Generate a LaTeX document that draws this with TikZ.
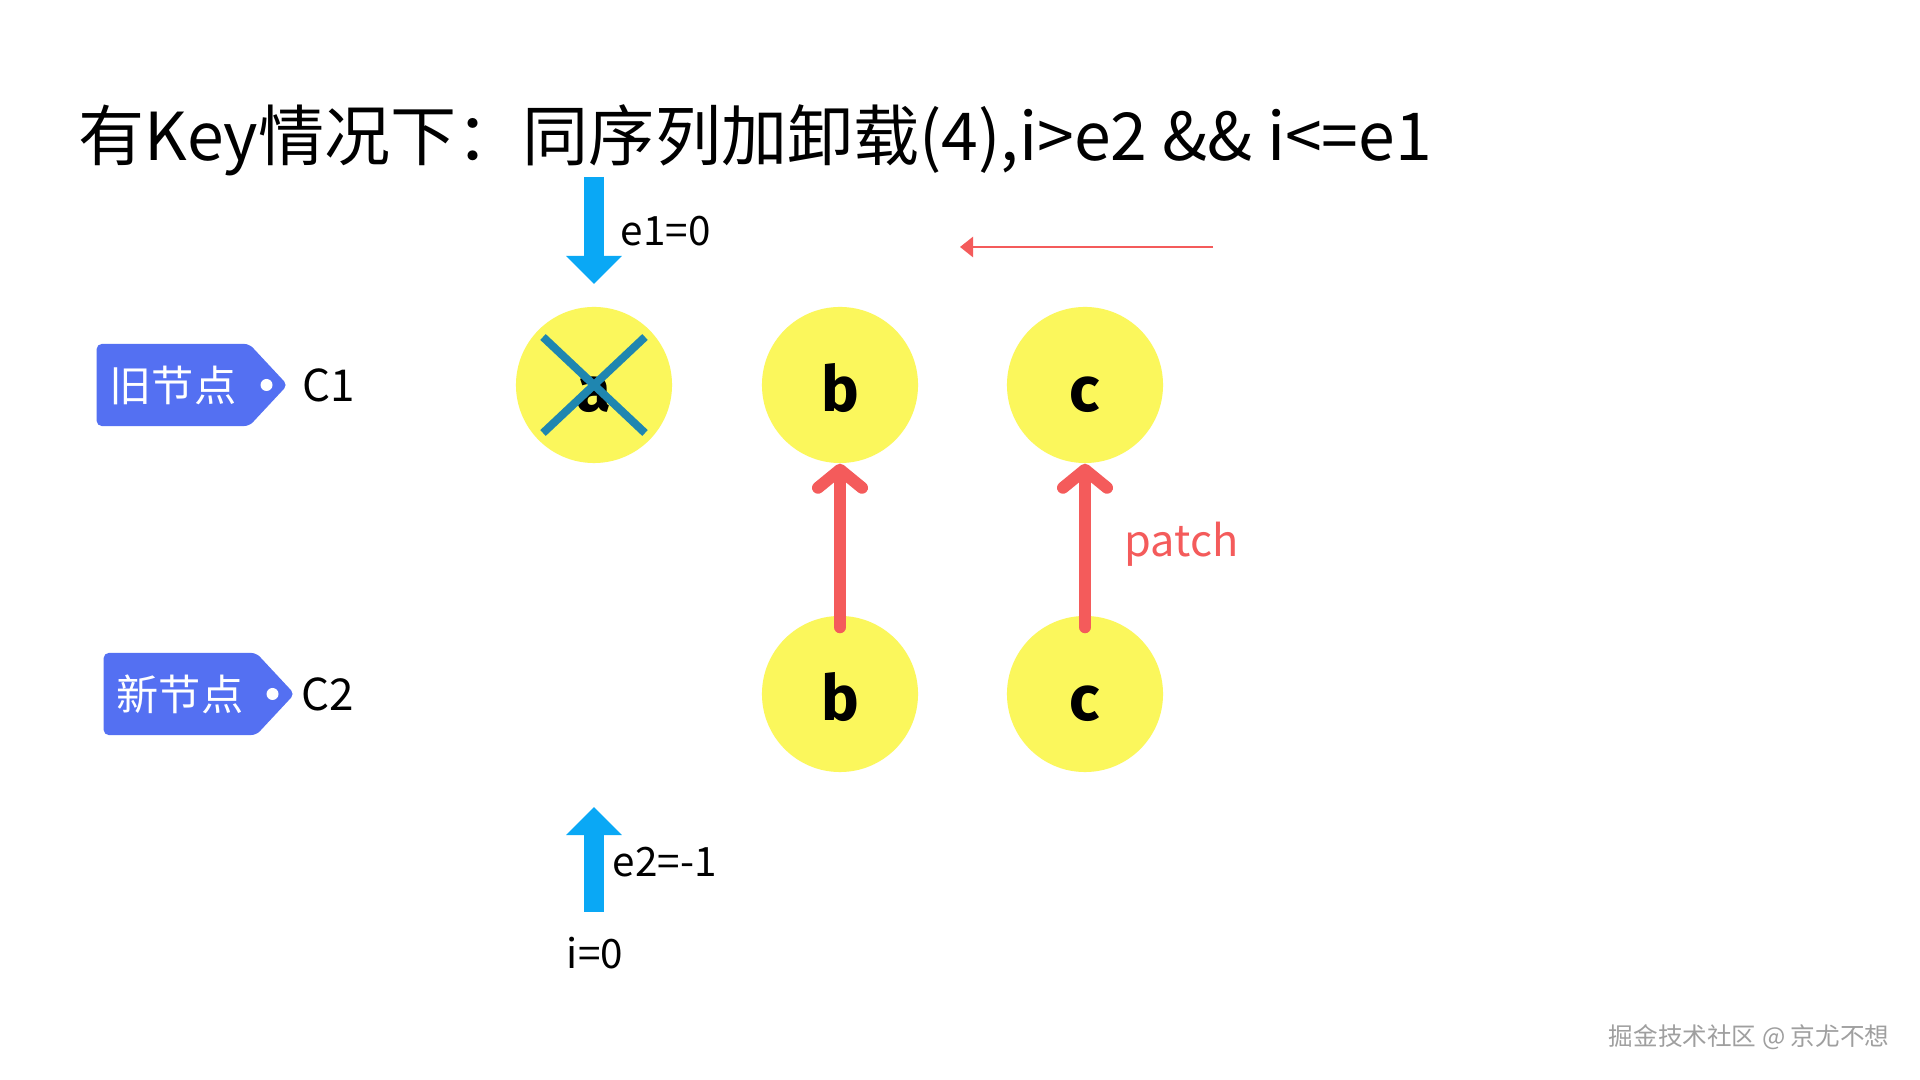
\documentclass[tikz,border=0pt]{standalone}
\usepackage{fontspec}
\setmainfont{Noto Sans CJK SC}
\newfontfamily\letterfont{Fira Sans}
\usetikzlibrary{arrows.meta,shapes.symbols}
\definecolor{ballyellow}{HTML}{FBF75C}
\definecolor{tagblue}{HTML}{5470F2}
\definecolor{ptrblue}{HTML}{0AA8F5}
\definecolor{crossblue}{HTML}{1F86B0}
\definecolor{patchred}{HTML}{F45B5B}
\begin{document}
\begin{tikzpicture}[x=0.01cm,y=-0.01cm,
ball/.style={circle, fill=ballyellow, minimum size=1.56cm, inner sep=0pt,
text height=0.52cm, text depth=0cm, font=\letterfont\bfseries\fontsize{18}{18}\selectfont},
tag/.style={signal, signal to=east, signal pointer angle=94, fill=tagblue, text=white,
rounded corners=0.05cm, minimum height=0.82cm, inner xsep=0.13cm, inner ysep=0pt,
font=\fontsize{12}{12}\selectfont},
lbl/.style={anchor=west, inner sep=0pt, font=\fontsize{11.5}{11.5}\selectfont},
ptr/.style={draw=ptrblue, line width=0.2cm, -{Triangle[length=0.28cm,width=0.54cm]}},
patch/.style={draw=patchred, line width=0.12cm, line cap=round, shorten <=-0.12cm,
-{Straight Barb[length=0.18cm,width=0.44cm,round]}}
]
\useasboundingbox[fill=white] (0,0) rectangle (1920,1080);

\node[anchor=west, inner sep=0pt, font=\fontsize{18.8}{18.8}\selectfont] (title) at (78,140)
{有Key情况下：同序列加卸载(4),i>e2 \&\& i<=e1};

% tags
\node[tag] (oldtag) at (173,385) {旧节点};
\fill[white] ([xshift=-0.22cm]oldtag.east) circle (0.06cm);
\node[lbl, font=\fontsize{12.5}{12.5}\selectfont] (c1) at (302,385) {C1};
\node[tag] (newtag) at (180,694) {新节点};
\fill[white] ([xshift=-0.23cm]newtag.east) circle (0.06cm);
\node[lbl, font=\fontsize{12.5}{12.5}\selectfont] (c2) at (301,694) {C2};

% nodes
\node[ball] (oa) at (594,385) {a};
\node[ball] (ob) at (840,385) {b};
\node[ball] (oc) at (1085,385) {c};
\node[ball] (nb) at (840,694) {b};
\node[ball] (nc) at (1085,694) {c};
\draw[crossblue, line width=0.08cm] ([shift={(-51,-48)}]oa.center) -- ([shift={(51,48)}]oa.center);
\draw[crossblue, line width=0.08cm] ([shift={(51,-48)}]oa.center) -- ([shift={(-51,48)}]oa.center);

% pointers
\coordinate (e1from) at (594,177);
\coordinate (e1to) at (594,284);
\draw[ptr] (e1from) -- (e1to);
\node[lbl] (e1lbl) at (620,231) {e1=0};
\coordinate (e2from) at (594,912);
\coordinate (e2to) at (594,807);
\draw[ptr] (e2from) -- (e2to);
\node[lbl] (e2lbl) at (612,862) {e2=-1};
\node[lbl, anchor=center] (ilbl) at (595,953) {i=0};

% direction
\coordinate (dirfrom) at (1213,247);
\coordinate (dirto) at (960,247);
\draw[draw=patchred, line width=0.025cm, -{Triangle[length=0.13cm,width=0.2cm]}] (dirfrom) -- (dirto);

% patch
\draw[patch] (nb.north) -- (ob.south);
\draw[patch] (nc.north) -- (oc.south);
\node[lbl, text=patchred, font=\fontsize{12.3}{12.3}\selectfont] (patchlbl) at (1124,544) {patch};

\node[anchor=east, inner sep=0pt, text=gray!75, font=\fontsize{7}{7}\selectfont] (mark) at (1890,1037)
{掘金技术社区 @ 京尤不想};
\end{tikzpicture}
\end{document}
